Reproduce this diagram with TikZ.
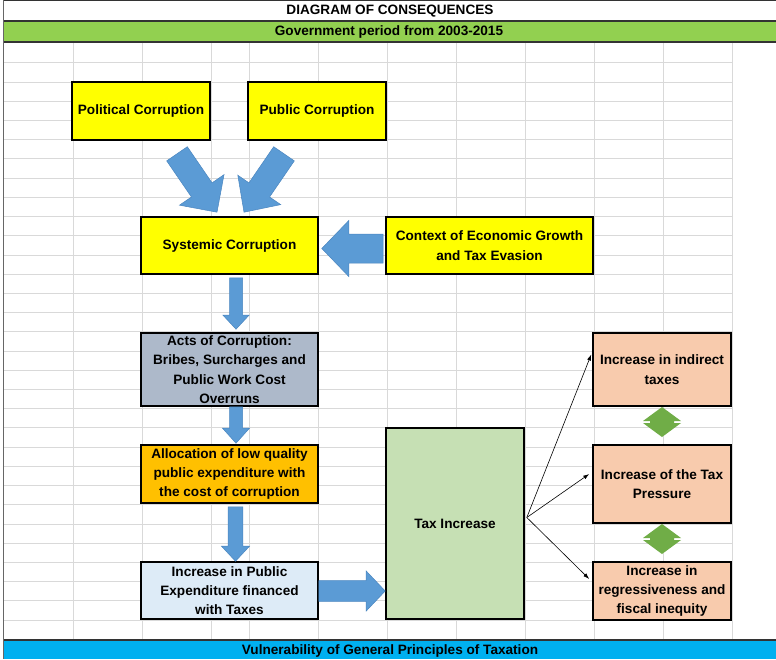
\documentclass[tikz,border=0pt]{standalone}
\usepackage{fontspec}
\setmainfont{Liberation Sans}
\usetikzlibrary{arrows.meta}
\usetikzlibrary{calc}
\definecolor{yellowbox}{HTML}{FFFF00}
\definecolor{actsbox}{HTML}{ADB9CA}
\definecolor{allocbox}{HTML}{FFC000}
\definecolor{expbox}{HTML}{DDEBF7}
\definecolor{taxbox}{HTML}{C6E0B4}
\definecolor{peachbox}{HTML}{F8CBAD}
\definecolor{bargreen}{HTML}{92D050}
\definecolor{barblue}{HTML}{00B0F0}
\definecolor{fatblue}{HTML}{5B9BD5}
\definecolor{fatedge}{HTML}{4A86C0}
\definecolor{updowngreen}{HTML}{70AD47}
\definecolor{gridgray}{HTML}{D9D9D9}
\newcommand\cellfont{\fontsize{13.6}{19.3}\selectfont\bfseries}
\newcommand\fatarrow[5]{%
	\coordinate (fa-a) at (#1);
	\coordinate (fa-b) at (#2);
	\coordinate (fa-h) at ($(fa-b)!#5!(fa-a)$);
	\filldraw[fat] ($(fa-a)!#3!90:(fa-b)$) -- ($(fa-h)!#3!90:(fa-b)$) -- ($(fa-h)!#4!90:(fa-b)$) -- (fa-b)
		-- ($(fa-h)!#4!-90:(fa-b)$) -- ($(fa-h)!#3!-90:(fa-b)$) -- ($(fa-a)!#3!-90:(fa-b)$) -- cycle;}
\newcommand\updown[1]{%
	\fill[updowngreen] ($(#1)+(0,-15)$) -- ++(19,14) -- ++(-7,0) -- ++(0,2) -- ++(7,0) -- ++(-19,14)
		-- ++(-19,-14) -- ++(7,0) -- ++(0,-2) -- ++(-7,0) -- cycle;}

\begin{document}
\begin{tikzpicture}[x=1pt, y=-1pt,
		gridline/.style={gridgray, line width=0.8pt},
		box/.style={draw=black, line width=1.6pt, inner sep=0pt, align=center, font=\cellfont},
		barlabel/.style={inner sep=0pt, font=\cellfont},
		fat/.style={fill=fatblue, draw=fatedge, line width=0.5pt},
		thin/.style={line width=0.6pt, -{Latex[length=6pt,width=4pt]}}]
				\useasboundingbox (0,0) rectangle (776,659);
				\fill[white] (0,0) rectangle (776,659);

				\foreach \gx in {73,142,211,249,318,387,456,525,594,663,732}
					\draw[gridline] (\gx,42) -- (\gx,640);
				\foreach \k in {0,...,28}
					\draw[gridline] (3,{62.7+19.22*\k}) -- (732,{62.7+19.22*\k});
				\draw[gridline] (3,620) -- (732,620);

				\fill[bargreen] (3,21) rectangle (776,42);
				\fill[barblue] (3,640) rectangle (776,659);
				\draw[line width=1pt, black!80] (3,0.5) -- (776,0.5);
				\draw[line width=1.2pt, black!80] (3,21) -- (776,21);
				\draw[line width=1.2pt, black!80] (3,42) -- (776,42);
				\draw[line width=1.2pt, black!80] (3,640) -- (776,640);
				\draw[line width=0.8pt, black!60] (3,0) -- (3,659);

				\node[barlabel] (title) at (390,11.5) {DIAGRAM OF CONSEQUENCES};
				\node[barlabel] (period) at (389,32) {Government period from 2003-2015};
				\node[barlabel] (vuln) at (390,650.5) {Vulnerability of General Principles of Taxation};

				\node[box, fill=yellowbox, minimum width=138, minimum height=58] (polit) at (141,111) {Political Corruption};
				\node[box, fill=yellowbox, minimum width=138, minimum height=58] (public) at (317,111) {Public Corruption};
				\node[box, fill=yellowbox, minimum width=177, minimum height=57] (sys) at (229.5,245.5) {Systemic Corruption};
				\node[box, fill=yellowbox, minimum width=207, minimum height=57] (ctx) at (489.5,245.5) {Context of Economic Growth\\and Tax Evasion};
				\node[box, fill=actsbox, minimum width=177, minimum height=73] (acts) at (229.5,369.5) {Acts of Corruption:\\Bribes, Surcharges and\\Public Work Cost\\Overruns};
				\node[box, fill=allocbox, minimum width=177, minimum height=58] (alloc) at (229.5,474) {Allocation of low quality\\public expenditure with\\the cost of corruption};
				\node[box, fill=expbox, minimum width=177, minimum height=57] (pubexp) at (229.5,590.5) {Increase in Public\\Expenditure financed\\with Taxes};
				\node[box, fill=taxbox, minimum width=138, minimum height=191] (tax) at (455,523.5) {Tax Increase};
				\node[box, fill=peachbox, minimum width=138, minimum height=73] (indirect) at (662,369.5) {Increase in indirect\\taxes};
				\node[box, fill=peachbox, minimum width=138, minimum height=78] (pressure) at (662,484) {Increase of the Tax\\Pressure};
				\node[box, fill=peachbox, minimum width=138, minimum height=58] (regress) at (662,591) {Increase in\\regressiveness and\\fiscal inequity};

				\fatarrow{$(polit.south)+(36,13)$}{$(sys.north)+(-12.5,-4)$}{12.5pt}{27pt}{27pt}
				\fatarrow{$(public.south)+(-33,13)$}{$(sys.north)+(14.5,-4)$}{12.5pt}{26pt}{27pt}
				\fatarrow{$(ctx.west)+(-2,3)$}{$(sys.east)+(3,3)$}{14.5pt}{28pt}{27pt}
				\fatarrow{$(sys.south)+(6.5,3)$}{$(acts.north)+(6.5,-3)$}{6.5pt}{13pt}{14pt}
				\fatarrow{$(acts.south)+(6.5,0)$}{$(alloc.north)+(6.5,-1)$}{6.5pt}{13.5pt}{15pt}
				\fatarrow{$(alloc.south)+(6,3)$}{$(pubexp.north)+(6,0)$}{7.4pt}{14pt}{15pt}
				\fatarrow{$(pubexp.east)+(0,0.5)$}{$(pubexp.east -| tax.west)+(0,0.5)$}{10.3pt}{20pt}{19pt}

				\coordinate (fork) at ($(tax.east)+(2,-6)$);
				\draw[thin] (fork) -- ($(indirect.west)+(-1,-15)$);
				\draw[thin] (fork) -- ($(pressure.west)+(-3,-10)$);
				\draw[thin] (fork) -- ($(regress.west)+(-3,-12)$);

				\coordinate (ud1) at ($(indirect.south)!0.5!(pressure.north)+(0,-3.5)$);
				\coordinate (ud2) at ($(pressure.south)!0.5!(regress.north)+(0,-3.5)$);
				\updown{ud1}
				\updown{ud2}
\end{tikzpicture}
\end{document}
